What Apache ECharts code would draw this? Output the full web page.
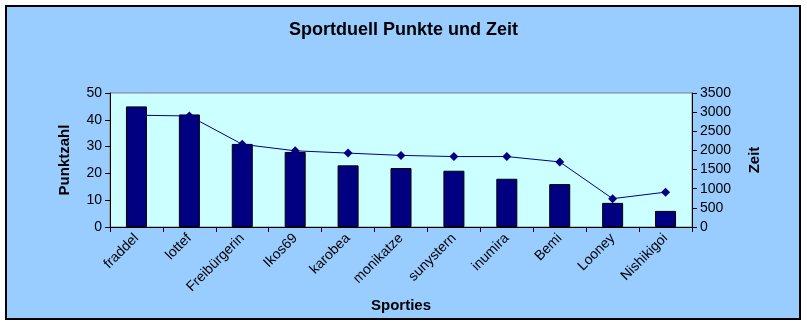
<!DOCTYPE html>
<html><head><meta charset="utf-8">
<script src="https://cdn.jsdelivr.net/npm/echarts@6/dist/echarts.min.js"></script>
<style>html,body{margin:0;padding:0;background:#fff}#c{width:807px;height:326px}</style>
</head><body><div id="c"></div>
<script>
const categories = ['fraddel','lottef','Freibürgerin','Ikos69','karobea','monikatze','sunystern','inumira','Bemi','Looney','Nishikigoi'];
const punkte = [45, 42, 31, 28, 23, 22, 21, 18, 16, 9, 6];
const zeit = [2920, 2900, 2160, 1990, 1930, 1870, 1840, 1840, 1700, 740, 910];
const leftTicks = [0, 10, 20, 30, 40, 50];
const rightTicks = [0, 500, 1000, 1500, 2000, 2500, 3000, 3500];

const chart = echarts.init(document.getElementById('c'), null, {renderer:'canvas'});
const font = 'Liberation Sans, Arial, sans-serif';
chart.setOption({
  animation:false,
  backgroundColor:'#ffffff',
  graphic:[{type:'rect', z:-10, shape:{x:6,y:6,width:794,height:313}, style:{fill:'#99CCFF', stroke:'#000', lineWidth:2}}],
  title:{text:'Sportduell Punkte und Zeit', left:'center', top:16,
    textStyle:{fontFamily:font, fontSize:18, fontWeight:'bold', color:'#000'}},
  grid:{left:110, right:115, top:93, bottom:99, show:true, backgroundColor:'#CCFFFF', borderColor:'#808080', borderWidth:1},
  xAxis:{type:'category', data:categories,
    name:'Sporties', nameLocation:'middle', nameGap:71,
    nameTextStyle:{fontFamily:font, fontSize:15, fontWeight:'bold', color:'#000'},
    axisLine:{lineStyle:{color:'#000'}},
    axisTick:{show:true, length:5, lineStyle:{color:'#000'}},
    axisLabel:{rotate:45, margin:9, interval:0, fontFamily:font, fontSize:14, color:'#000'}},
  yAxis:[{type:'value', min:0, max:50, interval:10,
    name:'Punktzahl', nameLocation:'middle', nameGap:38, nameRotate:90,
    nameTextStyle:{fontFamily:font, fontSize:15, fontWeight:'bold', color:'#000'},
    axisLine:{show:true, lineStyle:{color:'#000'}},
    axisTick:{show:true, length:5, lineStyle:{color:'#000'}},
    splitLine:{show:false},
    axisLabel:{margin:8, fontFamily:font, fontSize:14, color:'#000',
      formatter:v=>leftTicks.includes(v)?String(v):''}},
   {type:'value', min:0, max:3500, interval:500, position:'right',
    name:'Zeit', nameLocation:'middle', nameGap:55, nameRotate:90,
    nameTextStyle:{fontFamily:font, fontSize:15, fontWeight:'bold', color:'#000'},
    axisLine:{show:true, lineStyle:{color:'#000'}},
    axisTick:{show:true, length:5, lineStyle:{color:'#000'}},
    splitLine:{show:false},
    axisLabel:{margin:8, fontFamily:font, fontSize:14, color:'#000',
      formatter:v=>rightTicks.includes(v)?String(v):''}}],
  series:[
    {type:'bar', data:punkte, yAxisIndex:0, barWidth:21,
      itemStyle:{color:'#000080', borderColor:'#000', borderWidth:1}},
    {type:'line', data:zeit, yAxisIndex:1, symbol:'diamond', symbolSize:9,
      lineStyle:{color:'#000080', width:1}, itemStyle:{color:'#000080'}}
  ]
});
</script></body></html>
